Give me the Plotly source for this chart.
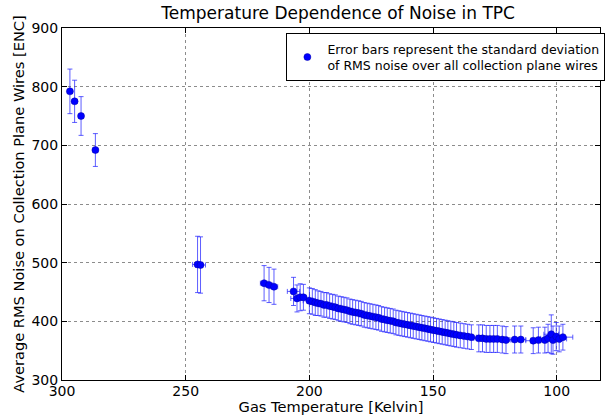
import plotly.graph_objects as go

# ---- data ----
temperature = [
    296.8, 294.9, 292.3, 286.5,
    245.2, 244.0,
    218.3, 216.3, 214.3,
    206.4, 205.0, 203.7, 202.4,
    200.0, 198.8, 197.6, 196.5, 195.3, 194.1, 193.0, 191.8, 190.6, 189.5,
    188.3, 187.1, 186.0, 184.8, 183.6, 182.5, 181.3, 180.1, 179.0, 177.8,
    176.6, 175.5, 174.3, 173.1, 172.0, 170.8, 169.6, 168.5, 167.3, 166.1,
    165.0, 163.8, 162.6, 161.5, 160.3, 159.1, 158.0, 156.8, 155.6, 154.5,
    153.3, 152.1, 151.0, 149.8, 148.6, 147.5, 146.3, 145.1, 144.0, 142.8,
    141.6, 140.5, 139.0, 137.5, 136.0, 134.5,
    131.5, 130.0, 128.5, 127.0, 125.5, 124.0, 122.0, 120.5, 117.0, 114.5,
    109.5, 107.4, 104.8, 103.5, 102.2, 101.5, 100.2, 99.0, 97.5,
]
noise = [
    792, 775, 750, 692,
    497, 496,
    465, 462, 459,
    451, 439, 441, 441,
    435, 434, 432, 431, 430, 428, 428, 426, 425, 424,
    422, 421, 420, 419, 417, 416, 415, 414, 413, 411,
    410, 409, 408, 407, 406, 404, 403, 402, 401, 400,
    398, 397, 396, 395, 394, 393, 392, 391, 390, 389,
    388, 387, 386, 385, 384, 383, 382, 381, 380, 379,
    378, 377, 376, 375, 374, 373,
    371, 371, 370, 370, 370, 370, 369, 368, 369, 369,
    367, 368, 368, 371, 378, 368, 374, 370, 373,
]
noise_std = [
    38, 36, 33, 28,
    48, 48,
    30, 30, 30,
    24, 23, 23, 22,
    22, 22, 22, 21, 21, 21, 21, 21, 21, 21,
    21, 21, 21, 21, 21, 21, 21, 21, 21, 21,
    21, 21, 21, 21, 21, 21, 21, 21, 21, 21,
    21, 21, 21, 21, 21, 21, 21, 21, 21, 21,
    21, 21, 21, 21, 21, 21, 21, 21, 21, 21,
    21, 21, 21, 21, 21, 21,
    23, 23, 23, 23, 23, 23, 23, 23, 23, 23,
    22, 22, 22, 24, 33, 24, 24, 22, 22,
]
temp_std = [
    1.0, 1.0, 1.0, 1.0,
    2.0, 2.0,
    1.5, 1.5, 1.5,
    2.5, 2.5, 2.5, 2.5,
    2.5, 2.0, 2.0, 2.0, 2.0, 2.0, 2.0, 2.0, 2.0, 2.0,
    2.0, 2.0, 2.0, 2.0, 2.0, 2.0, 2.0, 2.0, 2.0, 2.0,
    2.0, 2.0, 2.0, 2.0, 2.0, 2.0, 2.0, 2.0, 2.0, 2.0,
    2.0, 2.0, 2.0, 2.0, 2.0, 2.0, 2.0, 2.0, 2.0, 2.0,
    2.0, 2.0, 2.0, 2.0, 2.0, 2.0, 2.0, 2.0, 2.0, 2.0,
    2.0, 2.0, 2.0, 2.0, 2.0, 2.0,
    2.0, 2.0, 2.0, 2.0, 2.0, 2.0, 2.0, 2.0, 2.0, 2.0,
    3.0, 3.0, 3.0, 3.0, 3.0, 3.0, 3.0, 3.0, 4.0,
]
x_ticks = [300, 250, 200, 150, 100]
y_ticks = [300, 400, 500, 600, 700, 800, 900]

FONT = "DejaVu Sans"
BAR = "rgba(40,40,255,0.75)"

fig = go.Figure()
fig.add_trace(go.Scatter(
    x=temperature, y=noise, mode="markers",
    name="Error bars represent the standard deviation<br>of RMS noise over all collection plane wires",
    marker=dict(color="#0000ff", size=7, line=dict(width=0.5, color="#0000aa")),
    error_y=dict(type="data", array=noise_std, visible=True, color=BAR, thickness=1, width=2.5),
    error_x=dict(type="data", array=temp_std, visible=True, color=BAR, thickness=1, width=2.5),
))

axis_common = dict(
    showline=True, linecolor="black", linewidth=1, mirror="ticks",
    ticks="inside", ticklen=5, tickcolor="black",
    showgrid=True, gridcolor="rgba(0,0,0,0.45)", gridwidth=1, griddash="dot",
    zeroline=False, tickfont=dict(family=FONT, size=14, color="black"),
)

fig.update_layout(
    width=606, height=415,
    margin=dict(l=62, r=1, t=28, b=35),
    paper_bgcolor="white", plot_bgcolor="white",
    font=dict(family=FONT, color="black"),
    title=dict(text="Temperature Dependence of Noise in TPC", x=0.558, xanchor="center",
               y=0.982, yanchor="top", font=dict(family=FONT, size=17, color="black")),
    xaxis=dict(range=[300, 82.5], tickvals=x_ticks, ticklabelstandoff=-2,
               title=dict(text="Gas Temperature [Kelvin]", font=dict(family=FONT, size=14.6), standoff=5),
               **axis_common),
    yaxis=dict(range=[300, 900], tickvals=y_ticks,
               title=dict(text="Average RMS Noise on Collection Plane Wires [ENC]",
                          font=dict(family=FONT, size=14.6), standoff=3),
               **axis_common),
    showlegend=True,
    legend=dict(x=1.01, y=0.985, xanchor="right", yanchor="top",
                bordercolor="black", borderwidth=1, bgcolor="white",
                font=dict(family=FONT, size=12.5, color="black"),
                itemsizing="trace"),
)

fig.write_html("out.html")
